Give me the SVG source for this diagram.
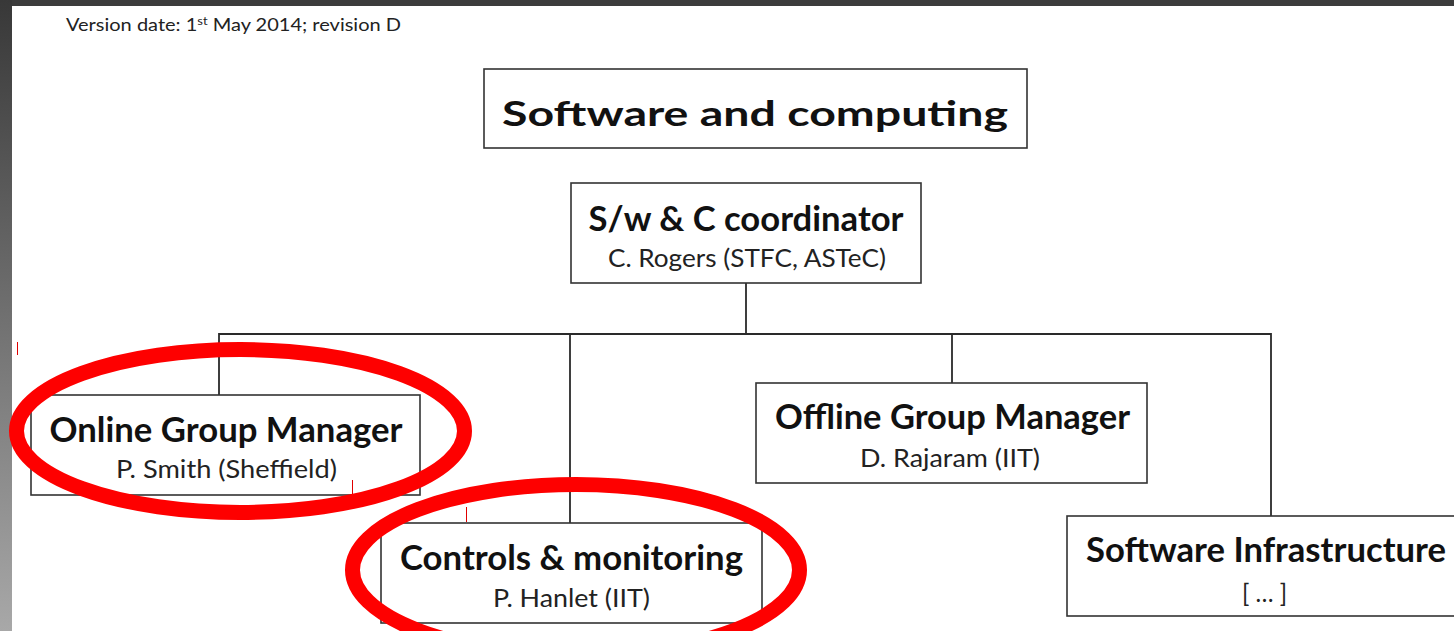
<svg xmlns="http://www.w3.org/2000/svg" width="1454" height="631" viewBox="0 0 1454 631">
  <defs>
    <linearGradient id="strip" x1="0" y1="0" x2="0" y2="1">
      <stop offset="0" stop-color="#383838"/>
      <stop offset="1" stop-color="#a8a8a8"/>
    </linearGradient>
    <style>
      .box { fill: #ffffff; stroke: #333333; stroke-width: 1.6; }
      .conn { fill: none; stroke: #2a2a2a; stroke-width: 1.8; }
      .hd { font-family: Lato, "Open Sans", "Liberation Sans", sans-serif; font-weight: bold; font-size: 34px; fill: #111111; text-anchor: middle; }
      .sub { font-family: Lato, "Open Sans", "Liberation Sans", sans-serif; font-size: 25px; fill: #222222; text-anchor: middle; }
      .ring { fill: none; stroke: #fe0000; stroke-width: 15; }
      .tick { stroke: #e00000; stroke-width: 1; }
    </style>
  </defs>

  <!-- background -->
  <rect x="0" y="0" width="1454" height="631" fill="#ffffff"/>
  <rect x="0" y="0" width="1454" height="6" fill="#3c3c3c"/>
  <rect x="0" y="0" width="12" height="631" fill="url(#strip)"/>

  <!-- version note -->
  <text x="66" y="31" font-family="Lato, 'Open Sans', 'Liberation Sans', sans-serif" font-size="17" fill="#222222" textLength="335" lengthAdjust="spacingAndGlyphs">Version date: 1<tspan font-size="11" dy="-6">st</tspan><tspan dy="6"> May 2014; revision D</tspan></text>

  <!-- connectors -->
  <g id="connectors">
    <line class="conn" x1="746" y1="283" x2="746" y2="334"/>
    <polyline class="conn" points="219,395 219,334 1271,334 1271,516"/>
    <line class="conn" x1="570" y1="334" x2="570" y2="523"/>
    <line class="conn" x1="952" y1="334" x2="952" y2="383"/>
  </g>

  <!-- title -->
  <g id="title">
    <rect class="box" x="484" y="69" width="543" height="79"/>
    <text class="hd" x="755" y="126" font-size="40" textLength="506" lengthAdjust="spacingAndGlyphs">Software and computing</text>
  </g>

  <g id="coordinator">
    <rect class="box" x="571" y="183" width="350" height="100"/>
    <text class="hd" x="746" y="231" font-size="36" textLength="315" lengthAdjust="spacingAndGlyphs">S/w &amp; C coordinator</text>
    <text class="sub" x="747" y="267" textLength="278" lengthAdjust="spacingAndGlyphs">C. Rogers (STFC, ASTeC)</text>
  </g>

  <g id="online">
    <rect class="box" x="31" y="395" width="389" height="100"/>
    <text class="hd" x="226" y="442" textLength="353" lengthAdjust="spacingAndGlyphs">Online Group Manager</text>
    <text class="sub" x="226.5" y="478" textLength="221" lengthAdjust="spacingAndGlyphs">P. Smith (Sheffield)</text>
  </g>

  <g id="controls">
    <rect class="box" x="381" y="523" width="381" height="100"/>
    <text class="hd" x="571.5" y="570" textLength="343" lengthAdjust="spacingAndGlyphs">Controls &amp; monitoring</text>
    <text class="sub" x="571.5" y="607" textLength="157" lengthAdjust="spacingAndGlyphs">P. Hanlet (IIT)</text>
  </g>

  <g id="offline">
    <rect class="box" x="756" y="383" width="391" height="100"/>
    <text class="hd" x="952.5" y="429" textLength="355" lengthAdjust="spacingAndGlyphs">Offline Group Manager</text>
    <text class="sub" x="950" y="467" textLength="180" lengthAdjust="spacingAndGlyphs">D. Rajaram (IIT)</text>
  </g>

  <g id="infrastructure">
    <rect class="box" x="1067" y="516" width="400" height="100"/>
    <text class="hd" x="1266" y="562" textLength="360" lengthAdjust="spacingAndGlyphs">Software Infrastructure</text>
    <text class="sub" x="1264.5" y="602" textLength="45" lengthAdjust="spacingAndGlyphs">[ … ]</text>
  </g>

  <!-- red annotations -->
  <g id="annotations">
    <ellipse class="ring" cx="240.5" cy="431" rx="224" ry="81.5"/>
    <ellipse class="ring" cx="576" cy="570" rx="223.5" ry="85.5"/>
    <line class="tick" x1="17.5" y1="342" x2="17.5" y2="355"/>
    <line class="tick" x1="352.5" y1="480" x2="352.5" y2="494"/>
    <line class="tick" x1="466.5" y1="507" x2="466.5" y2="522"/>
  </g>
</svg>
